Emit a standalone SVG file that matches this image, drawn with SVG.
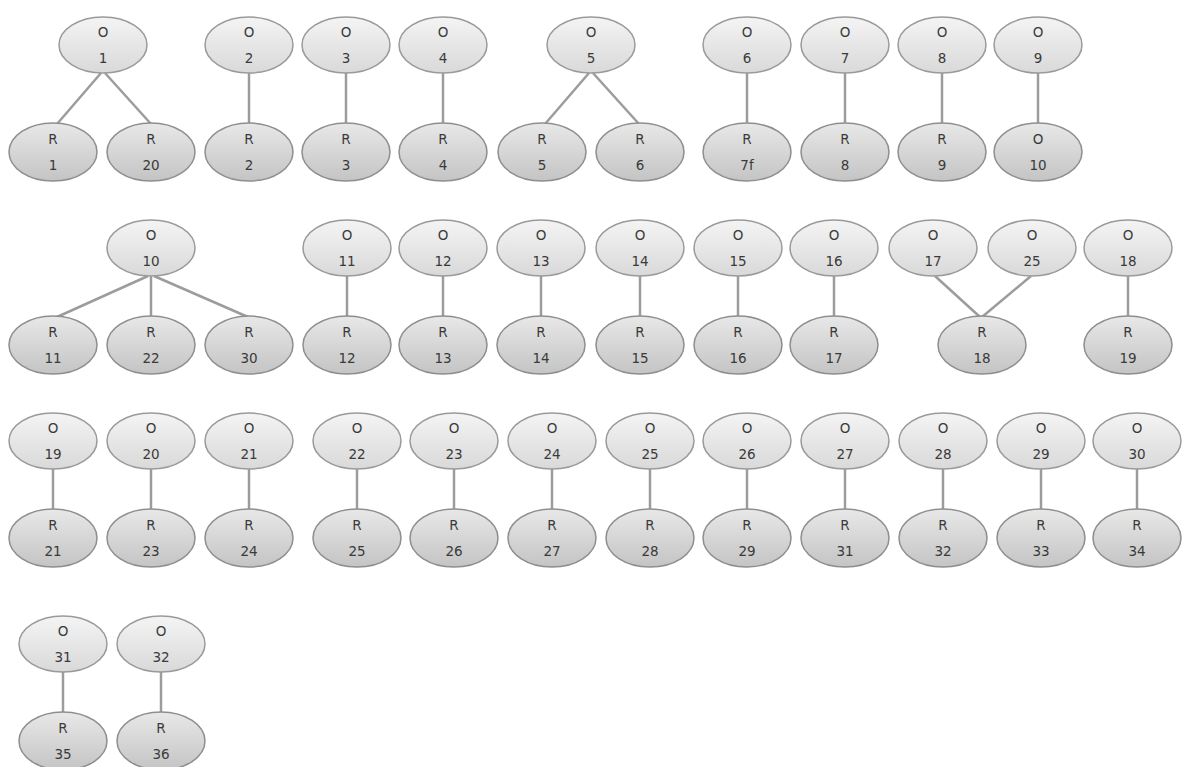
<svg xmlns="http://www.w3.org/2000/svg" width="1183" height="767" viewBox="0 0 1183 767">
<style>
.o{fill:url(#gO);stroke:#9a9a9a;stroke-width:1.5}
.r{fill:url(#gR);stroke:#8e8e8e;stroke-width:1.5}
text{font-family:"DejaVu Sans","Liberation Sans",sans-serif;font-size:13.5px;fill:#3a3a3a;text-anchor:middle}
#edges line{stroke:#9c9c9c;stroke-width:2.5}
</style>
<defs>
<linearGradient id="gO" x1="0" y1="0" x2="0" y2="1"><stop offset="0" stop-color="#f4f4f4"/><stop offset="1" stop-color="#d9d9d9"/></linearGradient>
<linearGradient id="gR" x1="0" y1="0" x2="0" y2="1"><stop offset="0" stop-color="#e8e8e8"/><stop offset="1" stop-color="#c4c4c4"/></linearGradient>
</defs>
<rect width="1183" height="767" fill="#fff"/>
<g id="edges">
<line x1="101" y1="73" x2="57" y2="124"/>
<line x1="105" y1="73" x2="151" y2="124"/>
<line x1="249" y1="73" x2="249" y2="124"/>
<line x1="346" y1="73" x2="346" y2="124"/>
<line x1="443" y1="73" x2="443" y2="124"/>
<line x1="589" y1="73" x2="545" y2="124"/>
<line x1="593" y1="73" x2="639" y2="124"/>
<line x1="747" y1="73" x2="747" y2="124"/>
<line x1="845" y1="73" x2="845" y2="124"/>
<line x1="942" y1="73" x2="942" y2="124"/>
<line x1="1038" y1="73" x2="1038" y2="124"/>
<line x1="148" y1="276" x2="57" y2="317"/>
<line x1="151" y1="276" x2="151" y2="317"/>
<line x1="154" y1="276" x2="248" y2="317"/>
<line x1="347" y1="276" x2="347" y2="317"/>
<line x1="443" y1="276" x2="443" y2="317"/>
<line x1="541" y1="276" x2="541" y2="317"/>
<line x1="640" y1="276" x2="640" y2="317"/>
<line x1="738" y1="276" x2="738" y2="317"/>
<line x1="834" y1="276" x2="834" y2="317"/>
<line x1="935" y1="276" x2="980" y2="317"/>
<line x1="1031" y1="276" x2="982" y2="317"/>
<line x1="1128" y1="276" x2="1128" y2="317"/>
<line x1="53" y1="469" x2="53" y2="510"/>
<line x1="151" y1="469" x2="151" y2="510"/>
<line x1="249" y1="469" x2="249" y2="510"/>
<line x1="357" y1="469" x2="357" y2="510"/>
<line x1="454" y1="469" x2="454" y2="510"/>
<line x1="552" y1="469" x2="552" y2="510"/>
<line x1="650" y1="469" x2="650" y2="510"/>
<line x1="747" y1="469" x2="747" y2="510"/>
<line x1="845" y1="469" x2="845" y2="510"/>
<line x1="943" y1="469" x2="943" y2="510"/>
<line x1="1041" y1="469" x2="1041" y2="510"/>
<line x1="1137" y1="469" x2="1137" y2="510"/>
<line x1="63" y1="672" x2="63" y2="713"/>
<line x1="161" y1="672" x2="161" y2="713"/>
</g>
<!-- row 1 -->
<g id="o1"><ellipse class="o" cx="103" cy="45" rx="44" ry="28"/><text x="103" y="37">O</text><text x="103" y="63">1</text></g>
<g id="o2"><ellipse class="o" cx="249" cy="45" rx="44" ry="28"/><text x="249" y="37">O</text><text x="249" y="63">2</text></g>
<g id="o3"><ellipse class="o" cx="346" cy="45" rx="44" ry="28"/><text x="346" y="37">O</text><text x="346" y="63">3</text></g>
<g id="o4"><ellipse class="o" cx="443" cy="45" rx="44" ry="28"/><text x="443" y="37">O</text><text x="443" y="63">4</text></g>
<g id="o5"><ellipse class="o" cx="591" cy="45" rx="44" ry="28"/><text x="591" y="37">O</text><text x="591" y="63">5</text></g>
<g id="o6"><ellipse class="o" cx="747" cy="45" rx="44" ry="28"/><text x="747" y="37">O</text><text x="747" y="63">6</text></g>
<g id="o7"><ellipse class="o" cx="845" cy="45" rx="44" ry="28"/><text x="845" y="37">O</text><text x="845" y="63">7</text></g>
<g id="o8"><ellipse class="o" cx="942" cy="45" rx="44" ry="28"/><text x="942" y="37">O</text><text x="942" y="63">8</text></g>
<g id="o9"><ellipse class="o" cx="1038" cy="45" rx="44" ry="28"/><text x="1038" y="37">O</text><text x="1038" y="63">9</text></g>
<g id="r1"><ellipse class="r" cx="53" cy="152" rx="44" ry="29"/><text x="53" y="144">R</text><text x="53" y="170">1</text></g>
<g id="r20"><ellipse class="r" cx="151" cy="152" rx="44" ry="29"/><text x="151" y="144">R</text><text x="151" y="170">20</text></g>
<g id="r2"><ellipse class="r" cx="249" cy="152" rx="44" ry="29"/><text x="249" y="144">R</text><text x="249" y="170">2</text></g>
<g id="r3"><ellipse class="r" cx="346" cy="152" rx="44" ry="29"/><text x="346" y="144">R</text><text x="346" y="170">3</text></g>
<g id="r4"><ellipse class="r" cx="443" cy="152" rx="44" ry="29"/><text x="443" y="144">R</text><text x="443" y="170">4</text></g>
<g id="r5"><ellipse class="r" cx="542" cy="152" rx="44" ry="29"/><text x="542" y="144">R</text><text x="542" y="170">5</text></g>
<g id="r6"><ellipse class="r" cx="640" cy="152" rx="44" ry="29"/><text x="640" y="144">R</text><text x="640" y="170">6</text></g>
<g id="r7f"><ellipse class="r" cx="747" cy="152" rx="44" ry="29"/><text x="747" y="144">R</text><text x="747" y="170">7f</text></g>
<g id="r8"><ellipse class="r" cx="845" cy="152" rx="44" ry="29"/><text x="845" y="144">R</text><text x="845" y="170">8</text></g>
<g id="r9"><ellipse class="r" cx="942" cy="152" rx="44" ry="29"/><text x="942" y="144">R</text><text x="942" y="170">9</text></g>
<g id="o10a"><ellipse class="r" cx="1038" cy="152" rx="44" ry="29"/><text x="1038" y="144">O</text><text x="1038" y="170">10</text></g>
<!-- row 2 -->
<g id="o10"><ellipse class="o" cx="151" cy="248" rx="44" ry="28"/><text x="151" y="240">O</text><text x="151" y="266">10</text></g>
<g id="o11"><ellipse class="o" cx="347" cy="248" rx="44" ry="28"/><text x="347" y="240">O</text><text x="347" y="266">11</text></g>
<g id="o12"><ellipse class="o" cx="443" cy="248" rx="44" ry="28"/><text x="443" y="240">O</text><text x="443" y="266">12</text></g>
<g id="o13"><ellipse class="o" cx="541" cy="248" rx="44" ry="28"/><text x="541" y="240">O</text><text x="541" y="266">13</text></g>
<g id="o14"><ellipse class="o" cx="640" cy="248" rx="44" ry="28"/><text x="640" y="240">O</text><text x="640" y="266">14</text></g>
<g id="o15"><ellipse class="o" cx="738" cy="248" rx="44" ry="28"/><text x="738" y="240">O</text><text x="738" y="266">15</text></g>
<g id="o16"><ellipse class="o" cx="834" cy="248" rx="44" ry="28"/><text x="834" y="240">O</text><text x="834" y="266">16</text></g>
<g id="o17"><ellipse class="o" cx="933" cy="248" rx="44" ry="28"/><text x="933" y="240">O</text><text x="933" y="266">17</text></g>
<g id="o25a"><ellipse class="o" cx="1032" cy="248" rx="44" ry="28"/><text x="1032" y="240">O</text><text x="1032" y="266">25</text></g>
<g id="o18"><ellipse class="o" cx="1128" cy="248" rx="44" ry="28"/><text x="1128" y="240">O</text><text x="1128" y="266">18</text></g>
<g id="r11"><ellipse class="r" cx="53" cy="345" rx="44" ry="29"/><text x="53" y="337">R</text><text x="53" y="363">11</text></g>
<g id="r22"><ellipse class="r" cx="151" cy="345" rx="44" ry="29"/><text x="151" y="337">R</text><text x="151" y="363">22</text></g>
<g id="r30"><ellipse class="r" cx="249" cy="345" rx="44" ry="29"/><text x="249" y="337">R</text><text x="249" y="363">30</text></g>
<g id="r12"><ellipse class="r" cx="347" cy="345" rx="44" ry="29"/><text x="347" y="337">R</text><text x="347" y="363">12</text></g>
<g id="r13"><ellipse class="r" cx="443" cy="345" rx="44" ry="29"/><text x="443" y="337">R</text><text x="443" y="363">13</text></g>
<g id="r14"><ellipse class="r" cx="541" cy="345" rx="44" ry="29"/><text x="541" y="337">R</text><text x="541" y="363">14</text></g>
<g id="r15"><ellipse class="r" cx="640" cy="345" rx="44" ry="29"/><text x="640" y="337">R</text><text x="640" y="363">15</text></g>
<g id="r16"><ellipse class="r" cx="738" cy="345" rx="44" ry="29"/><text x="738" y="337">R</text><text x="738" y="363">16</text></g>
<g id="r17"><ellipse class="r" cx="834" cy="345" rx="44" ry="29"/><text x="834" y="337">R</text><text x="834" y="363">17</text></g>
<g id="r18"><ellipse class="r" cx="982" cy="345" rx="44" ry="29"/><text x="982" y="337">R</text><text x="982" y="363">18</text></g>
<g id="r19"><ellipse class="r" cx="1128" cy="345" rx="44" ry="29"/><text x="1128" y="337">R</text><text x="1128" y="363">19</text></g>
<!-- row 3 -->
<g id="o19"><ellipse class="o" cx="53" cy="441" rx="44" ry="28"/><text x="53" y="433">O</text><text x="53" y="459">19</text></g>
<g id="o20"><ellipse class="o" cx="151" cy="441" rx="44" ry="28"/><text x="151" y="433">O</text><text x="151" y="459">20</text></g>
<g id="o21"><ellipse class="o" cx="249" cy="441" rx="44" ry="28"/><text x="249" y="433">O</text><text x="249" y="459">21</text></g>
<g id="o22"><ellipse class="o" cx="357" cy="441" rx="44" ry="28"/><text x="357" y="433">O</text><text x="357" y="459">22</text></g>
<g id="o23"><ellipse class="o" cx="454" cy="441" rx="44" ry="28"/><text x="454" y="433">O</text><text x="454" y="459">23</text></g>
<g id="o24"><ellipse class="o" cx="552" cy="441" rx="44" ry="28"/><text x="552" y="433">O</text><text x="552" y="459">24</text></g>
<g id="o25"><ellipse class="o" cx="650" cy="441" rx="44" ry="28"/><text x="650" y="433">O</text><text x="650" y="459">25</text></g>
<g id="o26"><ellipse class="o" cx="747" cy="441" rx="44" ry="28"/><text x="747" y="433">O</text><text x="747" y="459">26</text></g>
<g id="o27"><ellipse class="o" cx="845" cy="441" rx="44" ry="28"/><text x="845" y="433">O</text><text x="845" y="459">27</text></g>
<g id="o28"><ellipse class="o" cx="943" cy="441" rx="44" ry="28"/><text x="943" y="433">O</text><text x="943" y="459">28</text></g>
<g id="o29"><ellipse class="o" cx="1041" cy="441" rx="44" ry="28"/><text x="1041" y="433">O</text><text x="1041" y="459">29</text></g>
<g id="o30"><ellipse class="o" cx="1137" cy="441" rx="44" ry="28"/><text x="1137" y="433">O</text><text x="1137" y="459">30</text></g>
<g id="r21"><ellipse class="r" cx="53" cy="538" rx="44" ry="29"/><text x="53" y="530">R</text><text x="53" y="556">21</text></g>
<g id="r23"><ellipse class="r" cx="151" cy="538" rx="44" ry="29"/><text x="151" y="530">R</text><text x="151" y="556">23</text></g>
<g id="r24"><ellipse class="r" cx="249" cy="538" rx="44" ry="29"/><text x="249" y="530">R</text><text x="249" y="556">24</text></g>
<g id="r25"><ellipse class="r" cx="357" cy="538" rx="44" ry="29"/><text x="357" y="530">R</text><text x="357" y="556">25</text></g>
<g id="r26"><ellipse class="r" cx="454" cy="538" rx="44" ry="29"/><text x="454" y="530">R</text><text x="454" y="556">26</text></g>
<g id="r27"><ellipse class="r" cx="552" cy="538" rx="44" ry="29"/><text x="552" y="530">R</text><text x="552" y="556">27</text></g>
<g id="r28"><ellipse class="r" cx="650" cy="538" rx="44" ry="29"/><text x="650" y="530">R</text><text x="650" y="556">28</text></g>
<g id="r29"><ellipse class="r" cx="747" cy="538" rx="44" ry="29"/><text x="747" y="530">R</text><text x="747" y="556">29</text></g>
<g id="r31"><ellipse class="r" cx="845" cy="538" rx="44" ry="29"/><text x="845" y="530">R</text><text x="845" y="556">31</text></g>
<g id="r32"><ellipse class="r" cx="943" cy="538" rx="44" ry="29"/><text x="943" y="530">R</text><text x="943" y="556">32</text></g>
<g id="r33"><ellipse class="r" cx="1041" cy="538" rx="44" ry="29"/><text x="1041" y="530">R</text><text x="1041" y="556">33</text></g>
<g id="r34"><ellipse class="r" cx="1137" cy="538" rx="44" ry="29"/><text x="1137" y="530">R</text><text x="1137" y="556">34</text></g>
<!-- row 4 -->
<g id="o31"><ellipse class="o" cx="63" cy="644" rx="44" ry="28"/><text x="63" y="636">O</text><text x="63" y="662">31</text></g>
<g id="o32"><ellipse class="o" cx="161" cy="644" rx="44" ry="28"/><text x="161" y="636">O</text><text x="161" y="662">32</text></g>
<g id="r35"><ellipse class="r" cx="63" cy="741" rx="44" ry="29"/><text x="63" y="733">R</text><text x="63" y="759">35</text></g>
<g id="r36"><ellipse class="r" cx="161" cy="741" rx="44" ry="29"/><text x="161" y="733">R</text><text x="161" y="759">36</text></g>
</svg>
